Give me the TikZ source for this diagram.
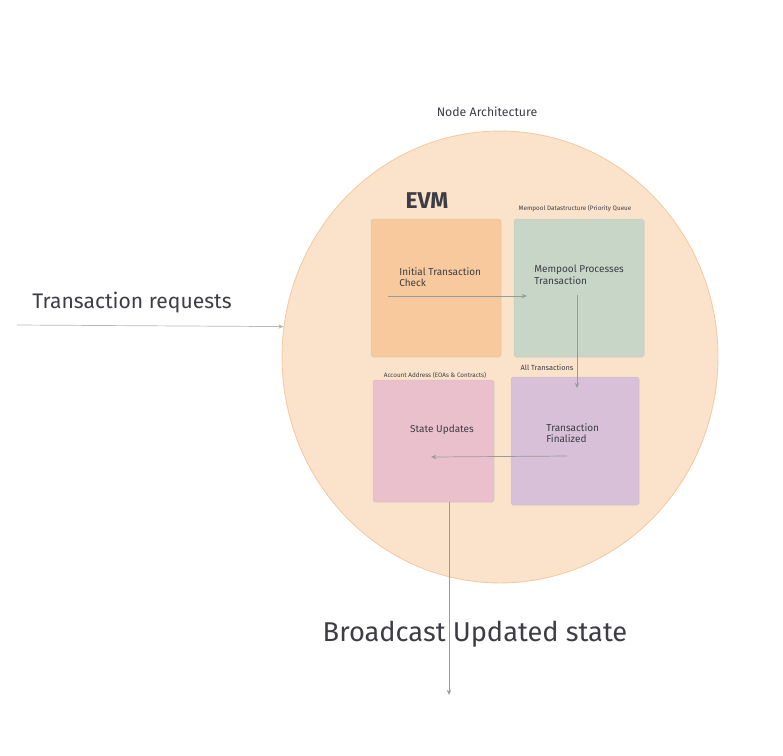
\documentclass[tikz,border=0pt]{standalone}
\usepackage{fontspec}
\setmainfont{Fira Sans}
\usetikzlibrary{arrows.meta,shapes.geometric}
\definecolor{circlefill}{HTML}{FBE3CB}
\definecolor{circleline}{HTML}{F3CBA3}
\definecolor{checkfill}{HTML}{F8C99C}
\definecolor{poolfill}{HTML}{C7D6C6}
\definecolor{statefill}{HTML}{E9C0CB}
\definecolor{finalfill}{HTML}{D7C0D8}
\definecolor{arrowgray}{HTML}{9A9A9A}
\definecolor{inkgray}{HTML}{3D3D45}
\begin{document}
\begin{tikzpicture}[x=0.02cm,y=-0.02cm,
    every node/.style={text=inkgray,inner sep=0pt},
    stagebox/.style={draw=#1!80!black!60,fill=#1,line width=0.3pt,rounded corners=1pt,minimum height=2.76cm},
    tinylabel/.style={font=\fontsize{3.6}{4}\selectfont},
    boxtext/.style={font=\fontsize{5.7}{6.6}\selectfont,align=left},
    flow/.style={draw=arrowgray,line width=0.4pt,-{Stealth[length=3pt,width=2.5pt]}},
  ]
        \useasboundingbox (0,0) rectangle (783,755);
        % node boundary
        \node (core) [ellipse,minimum width=8.72cm,minimum height=9.04cm,fill=circlefill,draw=circleline,line width=0.5pt] at (500,357) {};
        \node (title) at (487,112) {\fontsize{7}{8}\selectfont Node Architecture};
        \node (evm) at (427,201) {\fontsize{13}{15}\selectfont\bfseries EVM};
        % stages
        \node (check) [stagebox=checkfill,minimum width=2.6cm] at (436,288) {};
        \node (pool) [stagebox=poolfill,minimum width=2.6cm] at (579,288) {};
        \node (state) [stagebox=statefill,minimum width=2.42cm,minimum height=2.44cm] at (433.5,441) {};
        \node (final) [stagebox=finalfill,minimum width=2.56cm,minimum height=2.56cm] at (575,441) {};
        \node (checktext) [boxtext,anchor=west] at (399,277) {Initial Transaction\\Check};
        \node (pooltext) [boxtext,anchor=west] at (534,275) {Mempool Processes\\Transaction};
        \node (statetext) [boxtext] at (442,430) {State Updates};
        \node (finaltext) [boxtext,anchor=west] at (546,433) {Transaction\\Finalized};
        \node (poollabel) [tinylabel] at (575,208) {Mempool Datastructure (Priority Queue};
        \node (statelabel) [tinylabel] at (435,375) {Account Address (EOAs \& Contracts)};
        \node (finallabel) [tinylabel,font=\fontsize{4.2}{5}\selectfont] at (547,368) {All Transactions};
        % outside texts
        \node (requests) at (132,303) {\fontsize{12}{14}\selectfont Transaction requests};
        \node (broadcast) at (475,634) {\fontsize{15.5}{18}\selectfont Broadcast Updated state};
        % arrow ends
        \coordinate (reqstart) at (17,325);
        \coordinate (checkout) at (388,296);
        \coordinate (poolin) at (527,296);
        \coordinate (poolout) at (577,295);
        \coordinate (finalin) at (577,388);
        \coordinate (finalout) at (567,456);
        \coordinate (statein) at (431,457);
        \coordinate (bcastend) at (449,695);
        \draw[flow,draw=arrowgray!70] (reqstart) -- (core.172);
        \draw[flow] (checkout) -- (poolin);
        \draw[flow] (poolout) -- (finalin);
        \draw[flow] (finalout) -- (statein);
        \draw[flow] (state.south -| bcastend) -- (bcastend);
      \end{tikzpicture}
\end{document}
